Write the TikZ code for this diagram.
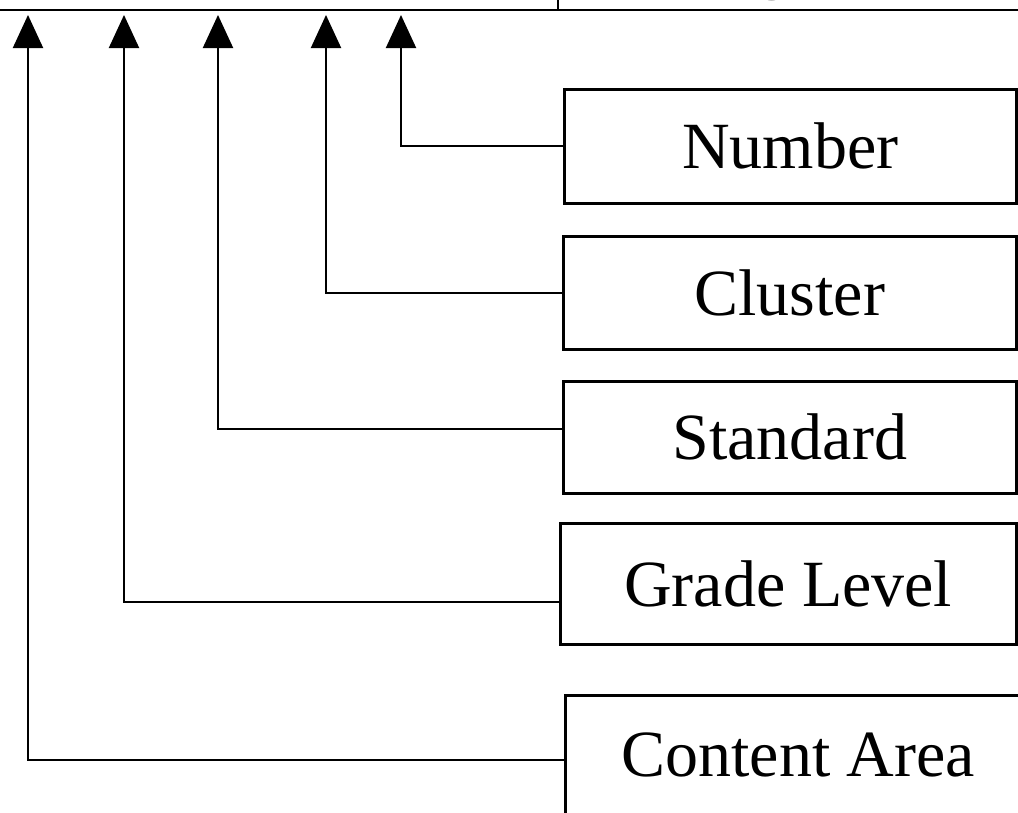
\documentclass[tikz,border=0pt]{standalone}
\usepackage{fontspec}
\setmainfont{Liberation Serif}
\usetikzlibrary{arrows.meta,calc}
\begin{document}
\begin{tikzpicture}[x=1pt,y=-1pt,
  box/.style={draw,line width=2.6pt,anchor=north west,inner sep=0pt,font=\fontsize{66}{70}\selectfont},
  conn/.style={line width=2pt,-{Triangle[width=30pt,length=33pt]}},
  topline/.style={line width=2.6pt}]
\useasboundingbox (0,0) rectangle (1018,812);
\begin{scope}
\clip (0,0) rectangle (1018,812);
% top frame
\coordinate (tl) at (-10,10);
\coordinate (tr) at (1030,10);
\coordinate (dv) at (558,-10);
\coordinate (dvb) at (558,10);
\draw[topline] (tl) -- (tr);
\draw[line width=2pt] (dv) -- (dvb);
\node[anchor=base,font=\fontsize{66}{70}\selectfont] (frag) at (773,-14) {g};
% boxes
\node[box,minimum width=452pt,minimum height=114pt] (num) at (563,88) {Number};
\node[box,minimum width=453pt,minimum height=113pt] (clu) at (562,235) {Cluster};
\node[box,minimum width=453pt,minimum height=112pt] (std) at (562,380) {Standard};
\node[box,minimum width=456pt,minimum height=121pt] (grd) at (559,522) {Grade Level};
\node[box,minimum width=466pt,minimum height=124pt] (con) at (564,694) {\raisebox{6pt}{Content Area}};
% arrow tips
\coordinate (t1) at (28,15);
\coordinate (t2) at (124,15);
\coordinate (t3) at (218,15);
\coordinate (t4) at (326,15);
\coordinate (t5) at (401,15);
% connectors
\draw[conn] (num.west) -| (t5);
\draw[conn] (clu.west) -| (t4);
\draw[conn] ($(std.west)+(0,-8)$) -| (t3);
\draw[conn] ($(grd.west)+(0,18)$) -| (t2);
\draw[conn] ($(con.west)+(0,3)$) -| (t1);
\end{scope}
\end{tikzpicture}
\end{document}
